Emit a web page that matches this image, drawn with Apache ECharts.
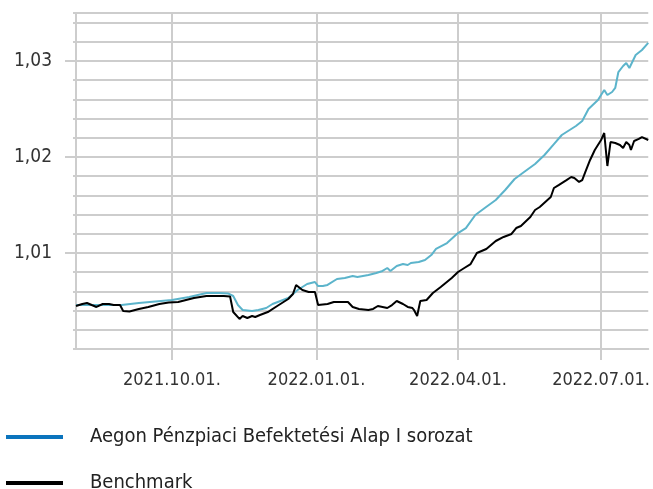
<!DOCTYPE html>
<html>
<head>
<meta charset="utf-8">
<script src="https://cdn.jsdelivr.net/npm/echarts@6/dist/echarts.min.js"></script>
<style>
html,body{margin:0;padding:0;background:#fff;}
#chart{width:653px;height:489px;}
</style>
</head>
<body>
<div id="chart"></div>
<script>
// ---- data ----
const fundName = 'Aegon Pénzpiaci Befektetési Alap I sorozat';
const benchName = 'Benchmark';

const fundDates = ['2021-08-01','2021-08-16','2021-08-30','2021-09-10','2021-10-01','2021-10-12','2021-10-23','2021-10-31','2021-11-06','2021-11-09','2021-11-12','2021-11-15','2021-11-21','2021-11-25','2021-11-30','2021-12-04','2021-12-09','2021-12-14','2021-12-20','2021-12-23','2021-12-26','2021-12-31','2022-01-02','2022-01-05','2022-01-08','2022-01-14','2022-01-19','2022-01-24','2022-01-27','2022-02-03','2022-02-08','2022-02-12','2022-02-15','2022-02-17','2022-02-21','2022-02-25','2022-02-28','2022-03-02','2022-03-07','2022-03-11','2022-03-15','2022-03-18','2022-03-25','2022-04-01','2022-04-06','2022-04-12','2022-04-18','2022-04-25','2022-05-01','2022-05-07','2022-05-13','2022-05-20','2022-05-26','2022-06-01','2022-06-06','2022-06-11','2022-06-15','2022-06-19','2022-06-23','2022-06-29','2022-07-03','2022-07-05','2022-07-08','2022-07-10','2022-07-12','2022-07-15','2022-07-17','2022-07-19','2022-07-23','2022-07-27','2022-07-31'];
const fundValues = [1.00458,1.00458,1.00458,1.00479,1.00510,1.00542,1.00583,1.00583,1.00578,1.00552,1.00458,1.00406,1.00396,1.00406,1.00427,1.00469,1.00500,1.00531,1.00615,1.00646,1.00677,1.00698,1.00656,1.00656,1.00667,1.00729,1.00740,1.00760,1.00750,1.00771,1.00792,1.00813,1.00844,1.00813,1.00865,1.00885,1.00875,1.00896,1.00906,1.00927,1.00979,1.01042,1.01104,1.01208,1.01260,1.01396,1.01469,1.01552,1.01656,1.01771,1.01844,1.01927,1.02021,1.02135,1.02229,1.02281,1.02323,1.02375,1.02500,1.02594,1.02698,1.02646,1.02677,1.02719,1.02885,1.02948,1.02979,1.02927,1.03063,1.03115,1.03188];

const benchDates = ['2021-08-01','2021-08-05','2021-08-08','2021-08-11','2021-08-14','2021-08-18','2021-08-22','2021-08-25','2021-08-29','2021-08-31','2021-09-04','2021-09-10','2021-09-16','2021-09-23','2021-09-29','2021-10-05','2021-10-15','2021-10-23','2021-11-03','2021-11-07','2021-11-09','2021-11-13','2021-11-15','2021-11-18','2021-11-21','2021-11-23','2021-11-26','2021-12-01','2021-12-07','2021-12-14','2021-12-17','2021-12-19','2021-12-23','2021-12-27','2021-12-31','2022-01-02','2022-01-08','2022-01-12','2022-01-17','2022-01-21','2022-01-24','2022-01-28','2022-02-03','2022-02-06','2022-02-09','2022-02-12','2022-02-15','2022-02-18','2022-02-21','2022-02-25','2022-02-28','2022-03-03','2022-03-04','2022-03-06','2022-03-08','2022-03-12','2022-03-16','2022-03-21','2022-03-28','2022-04-01','2022-04-05','2022-04-09','2022-04-13','2022-04-19','2022-04-25','2022-04-30','2022-05-05','2022-05-08','2022-05-11','2022-05-17','2022-05-20','2022-05-23','2022-05-30','2022-06-01','2022-06-04','2022-06-09','2022-06-12','2022-06-14','2022-06-17','2022-06-19','2022-06-21','2022-06-24','2022-06-27','2022-07-01','2022-07-03','2022-07-05','2022-07-07','2022-07-10','2022-07-13','2022-07-15','2022-07-17','2022-07-19','2022-07-20','2022-07-22','2022-07-25','2022-07-27','2022-07-31'];
const benchValues = [1.00448,1.00469,1.00479,1.00458,1.00438,1.00469,1.00469,1.00458,1.00458,1.00396,1.00391,1.00417,1.00438,1.00469,1.00484,1.00490,1.00531,1.00552,1.00552,1.00547,1.00385,1.00313,1.00344,1.00323,1.00344,1.00333,1.00354,1.00385,1.00448,1.00521,1.00573,1.00667,1.00615,1.00594,1.00594,1.00458,1.00469,1.00490,1.00490,1.00490,1.00438,1.00417,1.00406,1.00417,1.00448,1.00438,1.00427,1.00458,1.00500,1.00469,1.00438,1.00427,1.00406,1.00344,1.00500,1.00510,1.00583,1.00646,1.00740,1.00802,1.00844,1.00885,1.01000,1.01042,1.01125,1.01167,1.01198,1.01260,1.01281,1.01375,1.01448,1.01479,1.01583,1.01677,1.01708,1.01760,1.01792,1.01781,1.01740,1.01760,1.01844,1.01969,1.02073,1.02177,1.02250,1.01906,1.02156,1.02146,1.02125,1.02094,1.02156,1.02125,1.02073,1.02167,1.02188,1.02208,1.02177];

const xTickDates = ['2021-10-01','2022-01-01','2022-04-01','2022-07-01'];
const yLabelValues = [1.01, 1.02, 1.03];
const xMin = '2021-08-01', xMax = '2022-07-31';
const yMin = 1.000, yMax = 1.035, yGridStep = 0.002;

// ---- build ----
const ts = s => new Date(s + 'T00:00:00').getTime();
const fundData = fundDates.map((d, i) => [ts(d), fundValues[i]]);
const benchData = benchDates.map((d, i) => [ts(d), benchValues[i]]);
const xTicks = xTickDates.map(ts);
const pad = n => (n < 10 ? '0' : '') + n;
const gridColor = '#cdcdcd';
const fontFam = '"DejaVu Sans Condensed", "DejaVu Sans", sans-serif';

const chart = echarts.init(document.getElementById('chart'));
chart.setOption({
  animation: false,
  grid: { left: 76, right: 0, top: 13, bottom: 140, containLabel: false },
  legend: {
    orient: 'vertical', left: 6, top: 427, height: 90, padding: 0, itemGap: 26,
    itemWidth: 57, itemHeight: 4, icon: 'rect',
    textStyle: { fontSize: 20, color: '#222', fontFamily: fontFam, padding: [0, 0, 0, 22], lineHeight: 20 },
    data: [
      { name: fundName, itemStyle: { color: '#0b74bd' } },
      { name: benchName, itemStyle: { color: '#000' } }
    ],
    selectedMode: false
  },
  xAxis: {
    type: 'value', min: ts(xMin), max: ts(xMax),
    axisLine: { show: true, lineStyle: { color: gridColor, width: 2 } },
    axisTick: { show: true, customValues: xTicks, length: 11, lineStyle: { color: gridColor, width: 2 } },
    splitLine: { show: true, lineStyle: { color: gridColor, width: 2 } },
    axisLabel: {
      customValues: xTicks, margin: 22, fontSize: 18, color: '#333', fontFamily: fontFam,
      formatter: v => { const d = new Date(v); return d.getFullYear() + '.' + pad(d.getMonth() + 1) + '.' + pad(d.getDate()) + '.'; }
    }
  },
  yAxis: [
    {
      type: 'value', min: yMin, max: yMax, interval: yGridStep, position: 'left',
      axisLine: { show: true, lineStyle: { color: gridColor, width: 2 } },
      axisTick: { show: true, length: 3, lineStyle: { color: gridColor, width: 2 } },
      splitLine: { show: true, lineStyle: { color: gridColor, width: 2 } },
      axisLabel: { show: false }
    },
    {
      type: 'value', min: yMin, max: yMax, position: 'left',
      axisLine: { show: false },
      axisTick: { show: true, customValues: yLabelValues, length: 11, lineStyle: { color: gridColor, width: 2 } },
      splitLine: { show: false },
      axisLabel: {
        customValues: yLabelValues, margin: 24, fontSize: 19, color: '#333', fontFamily: fontFam,
        formatter: v => v.toFixed(2).replace('.', ',')
      }
    }
  ],
  series: [
    { name: fundName, type: 'line', data: fundData, showSymbol: false, symbol: 'none',
      lineStyle: { color: '#5cb4cb', width: 2 }, itemStyle: { color: '#5cb4cb' }, z: 3 },
    { name: benchName, type: 'line', data: benchData, showSymbol: false, symbol: 'none',
      lineStyle: { color: '#000', width: 2 }, itemStyle: { color: '#000' }, z: 4 }
  ]
});
</script>
</body>
</html>
